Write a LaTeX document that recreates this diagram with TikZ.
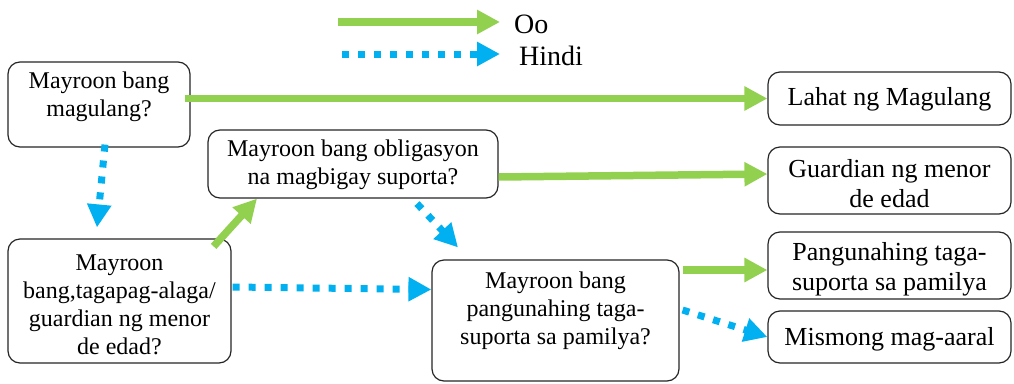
\documentclass[tikz,border=0pt]{standalone}
\usepackage{fontspec}
\setmainfont{Liberation Serif}
\usetikzlibrary{arrows.meta,calc}
\definecolor{ogreen}{RGB}{146,208,80}
\definecolor{hblue}{RGB}{0,176,240}
\begin{document}
\begin{tikzpicture}[x=1pt,y=-1pt,
  box/.style={draw=black!85, line width=1.2pt, rounded corners=12pt, inner sep=0pt},
  txt/.style={align=center, inner sep=0pt, font=\fontsize{24}{28}\selectfont},
  rtxt/.style={align=center, inner sep=0pt, font=\fontsize{26}{30}\selectfont},
  legtxt/.style={inner sep=0pt, font=\fontsize{28}{32}\selectfont},
  yes/.style={draw=ogreen, line width=7.5pt, -{Triangle[length=23pt,width=23pt,fill=ogreen]}},
  no/.style={draw=hblue, line width=7pt, dash pattern=on 7pt off 9pt, -{Triangle[length=23pt,width=23pt,fill=hblue]}}
]
\fill[white] (0,0) rectangle (1014,383);
\useasboundingbox (0,0) rectangle (1014,383);

% legend
\coordinate (lg1) at (338,22);
\coordinate (lg2) at (500,22);
\coordinate (lb1) at (342,54);
\coordinate (lb2) at (500,54);
\draw[yes] (lg1) -- (lg2);
\draw[no] (lb1) -- (lb2);
\node[legtxt, anchor=base west] (lyes) at (514,33) {Oo};
\node[legtxt, anchor=base west] (lno) at (519,65) {Hindi};

% boxes
\node[box, minimum width=182pt, minimum height=85pt] (b1) at (99,104.5) {};
\node[box, minimum width=243pt, minimum height=53pt] (b2) at (889.5,98.5) {};
\node[box, minimum width=290pt, minimum height=68pt] (b3) at (353,164) {};
\node[box, minimum width=243pt, minimum height=67pt] (b4) at (889.5,180.5) {};
\node[box, minimum width=223pt, minimum height=124pt] (b5) at (119.5,301) {};
\node[box, minimum width=243pt, minimum height=67pt] (b6) at (889.5,265.5) {};
\node[box, minimum width=247pt, minimum height=121pt] (b7) at (555.5,320.5) {};
\node[box, minimum width=243pt, minimum height=52pt] (b8) at (889.5,337) {};

% texts
\node[txt] (t1) at (99,97) {Mayroon bang\\magulang?};
\node[rtxt] (t2) at (889.5,99) {Lahat ng Magulang};
\node[txt] (t3) at (353,164.5) {Mayroon bang obligasyon\\na magbigay suporta?};
\node[rtxt] (t4) at (889.5,183.5) {Guardian ng menor\\de edad};
\node[txt] (t5) at (119.5,304.5) {Mayroon\\bang,tagapag-alaga/\\guardian ng menor\\de edad?};
\node[rtxt] (t6) at (889.5,269) {Pangunahing taga-\\suporta sa pamilya};
\node[txt] (t7) at (555.5,310.5) {Mayroon bang\\pangunahing taga-\\suporta sa pamilya?};
\node[rtxt] (t8) at (889.5,339) {Mismong mag-aaral};

% connectors
\draw[yes] ($(b1.east |- b2.west)+(-6,0)$) -- (b2.west);
\draw[no] ($(b1.south)+(6,-3)$) -- ($(b5.north)+(-22.5,-11)$);
\draw[yes] ($(b5.north east)+(-18,8)$) -- ($(b3.south)+(-96,0)$);
\draw[yes] ($(b3.east)+(0,13)$) -- ($(b4.west)+(0,-6.5)$);
\draw[no] ($(b3.south)+(64,5)$) -- ($(b7.north)+(-97.5,-12)$);
\draw[no] ($(b5.east)+(1,-14)$) -- ($(b7.west)+(0,-31)$);
\draw[yes] ($(b7.east)+(3,-50.5)$) -- ($(b6.west)+(0,4.5)$);
\draw[no] ($(b7.east)+(3,-10.5)$) -- (b8.west);
\end{tikzpicture}
\end{document}
